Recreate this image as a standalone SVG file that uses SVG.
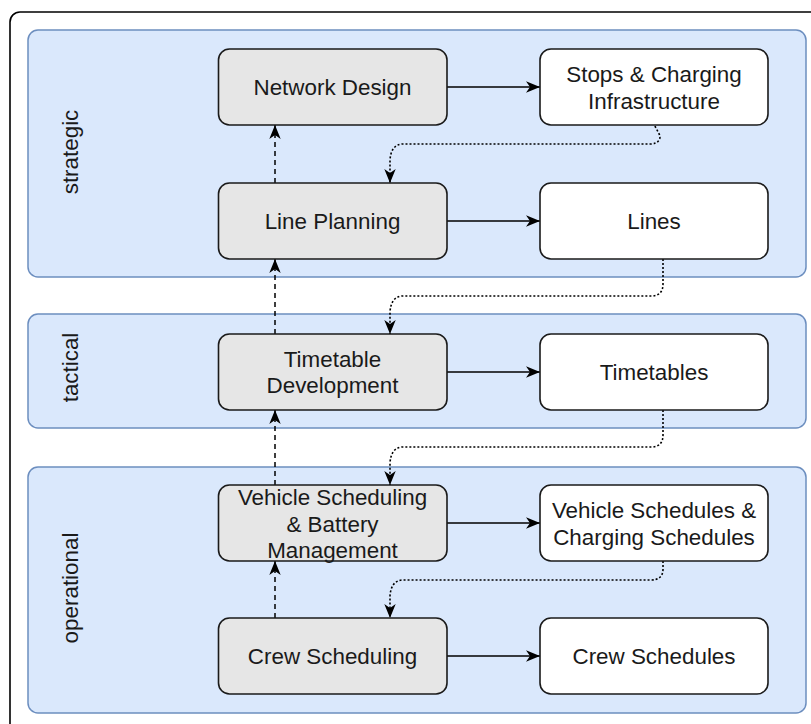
<svg xmlns="http://www.w3.org/2000/svg" width="811" height="724" viewBox="0 0 811 724">
  <style>
    .frame { fill: #ffffff; stroke: #000000; stroke-width: 1.6; }
    .lane { fill: #dae8fc; stroke: #6c8ebf; stroke-width: 1.5; }
    .proc { fill: #e6e6e6; stroke: #1a1a1a; stroke-width: 1.6; }
    .data { fill: #ffffff; stroke: #1a1a1a; stroke-width: 1.6; }
    .label { font-family: "Liberation Sans", Arial, Helvetica, sans-serif; font-size: 22.4px; fill: #1a1a1a; text-anchor: middle; }
    .flow { fill: none; stroke: #000000; stroke-width: 1.6; marker-end: url(#arrow); }
    .up { fill: none; stroke: #000000; stroke-width: 1.5; stroke-dasharray: 5 4; marker-end: url(#arrow); }
    .feed { fill: none; stroke: #000000; stroke-width: 1.6; stroke-dasharray: 2 2; marker-end: url(#arrow); }
  </style>
  <defs>
    <marker id="arrow" markerUnits="userSpaceOnUse" markerWidth="15" markerHeight="15" viewBox="0 0 15 15" refX="14" refY="7.5" orient="auto">
      <path d="M0,1.8 L14,7.5 L0,13.2 L4,7.5 Z" fill="#000000"/>
    </marker>
  </defs>

  <!-- outer frame -->
  <rect class="frame" x="10" y="12" width="830" height="740" rx="10"/>

  <!-- planning levels -->
  <g id="lane-strategic">
    <rect class="lane" x="28" y="30" width="778" height="247" rx="10"/>
    <text class="label" transform="translate(78 152) rotate(-90)">strategic</text>
  </g>
  <g id="lane-tactical">
    <rect class="lane" x="28" y="314" width="778" height="114" rx="10"/>
    <text class="label" transform="translate(78 367.5) rotate(-90)">tactical</text>
  </g>
  <g id="lane-operational">
    <rect class="lane" x="28" y="467" width="778" height="246" rx="10"/>
    <text class="label" transform="translate(78 588) rotate(-90)">operational</text>
  </g>

  <!-- connectors -->
  <g id="connectors">
    <!-- process to result -->
    <path class="flow" d="M447,87 L540,87"/>
    <path class="flow" d="M447,221 L540,221"/>
    <path class="flow" d="M447,372 L540,372"/>
    <path class="flow" d="M447,523 L540,523"/>
    <path class="flow" d="M447,656 L540,656"/>
    <!-- feedback upwards -->
    <path class="up" d="M275,183 L275,125"/>
    <path class="up" d="M275,334 L275,259"/>
    <path class="up" d="M275,485 L275,410"/>
    <path class="up" d="M275,618 L275,561"/>
    <!-- result feeds next level -->
    <path class="feed" d="M655,126 C657,131 662,136 659,140 Q657,144 650,144 L402,144 Q391,145 390,160 L390,183"/>
    <path class="feed" d="M663,259 L663,284 Q663,296 651,296 L402,296 Q391,297 390,312 L390,334"/>
    <path class="feed" d="M663,410 L663,435 Q663,447 651,447 L402,447 Q391,448 390,463 L390,485"/>
    <path class="feed" d="M663,561 L663,569 Q663,580 651,580 L402,580 Q391,581 390,596 L390,618"/>
  </g>

  <!-- processes -->
  <g id="network-design">
    <rect class="proc" x="218.5" y="49" width="228.5" height="76" rx="11"/>
    <text class="label" x="332.5" y="95">Network Design</text>
  </g>
  <g id="line-planning">
    <rect class="proc" x="218.5" y="183" width="228.5" height="76" rx="11"/>
    <text class="label" x="332.5" y="229">Line Planning</text>
  </g>
  <g id="timetable-development">
    <rect class="proc" x="218.5" y="334" width="228.5" height="76" rx="11"/>
    <text class="label" x="332.5" y="366.7">Timetable</text>
    <text class="label" x="332.5" y="393.3">Development</text>
  </g>
  <g id="vehicle-scheduling">
    <rect class="proc" x="218.5" y="485" width="228.5" height="76" rx="11"/>
    <text class="label" x="332.5" y="505">Vehicle Scheduling</text>
    <text class="label" x="332.5" y="531.5">&amp; Battery</text>
    <text class="label" x="332.5" y="557.5">Management</text>
  </g>
  <g id="crew-scheduling">
    <rect class="proc" x="218.5" y="618" width="228.5" height="76" rx="11"/>
    <text class="label" x="332.5" y="664">Crew Scheduling</text>
  </g>

  <!-- results -->
  <g id="stops-charging">
    <rect class="data" x="540" y="49" width="228" height="76" rx="11"/>
    <text class="label" x="654" y="82.3">Stops &amp; Charging</text>
    <text class="label" x="654" y="108.8">Infrastructure</text>
  </g>
  <g id="lines">
    <rect class="data" x="540" y="183" width="228" height="76" rx="11"/>
    <text class="label" x="654" y="229">Lines</text>
  </g>
  <g id="timetables">
    <rect class="data" x="540" y="334" width="228" height="76" rx="11"/>
    <text class="label" x="654" y="380">Timetables</text>
  </g>
  <g id="vehicle-charging-schedules">
    <rect class="data" x="540" y="485" width="228" height="76" rx="11"/>
    <text class="label" x="654" y="518">Vehicle Schedules &amp;</text>
    <text class="label" x="654" y="544.5">Charging Schedules</text>
  </g>
  <g id="crew-schedules">
    <rect class="data" x="540" y="618" width="228" height="76" rx="11"/>
    <text class="label" x="654" y="664">Crew Schedules</text>
  </g>
</svg>
